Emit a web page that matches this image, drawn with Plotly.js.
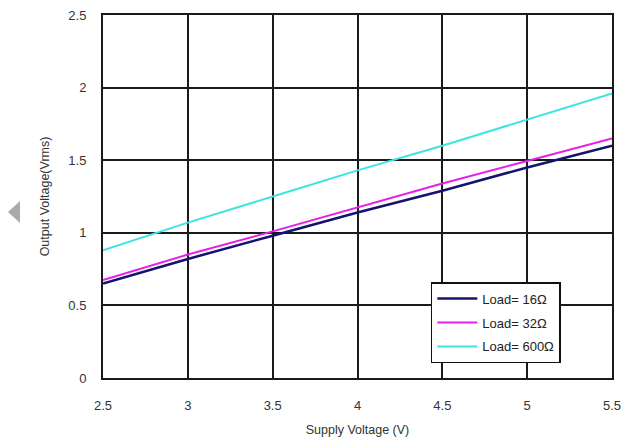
<!DOCTYPE html>
<html><head><meta charset="utf-8">
<script src="https://cdn.plot.ly/plotly-3.0.1.min.js"></script>
<style>html,body{margin:0;padding:0;background:#fff;}#chart{width:622px;height:445px;}</style>
</head><body><div id="chart"></div>
<script>
const supplyVoltage = [2.5, 3, 3.5, 4, 4.5, 5, 5.5];
const load16 = [0.65, 0.82, 0.98, 1.14, 1.29, 1.45, 1.60];
const load32 = [0.675, 0.85, 1.01, 1.175, 1.34, 1.495, 1.65];
const load600 = [0.88, 1.07, 1.25, 1.43, 1.60, 1.78, 1.96];
const seriesNames = ['Load= 16Ω', 'Load= 32Ω', 'Load= 600Ω'];
const xTicks = [2.5, 3, 3.5, 4, 4.5, 5, 5.5];
const yTicks = [0, 0.5, 1, 1.5, 2, 2.5];

const traces = [
  {x: supplyVoltage, y: load16, name: seriesNames[0], legendgroup: 'a', mode: 'lines', line: {color: '#14146e', width: 2.5}},
  {x: supplyVoltage, y: load32, name: seriesNames[1], legendgroup: 'b', mode: 'lines', line: {color: '#e81ee8', width: 2}},
  {x: supplyVoltage, y: load600, name: seriesNames[2], legendgroup: 'c', mode: 'lines', line: {color: '#3ee4e0', width: 2}}
];
const fam = 'Liberation Sans, Arial, sans-serif';
const layout = {
  width: 622, height: 445,
  margin: {l: 103, r: 10, t: 15, b: 67},
  paper_bgcolor: '#fff', plot_bgcolor: '#fff',
  font: {family: fam, size: 13, color: '#333'},
  showlegend: true,
  legend: {x: 0.644, y: 0.264, xanchor: 'left', yanchor: 'top', bgcolor: '#fff', bordercolor: '#111', borderwidth: 1.5,
           traceorder: 'grouped', tracegroupgap: 4, entrywidth: 112, itemwidth: 40,
           font: {family: fam, size: 13, color: '#222'}},
  xaxis: {range: [2.5, 5.5], tickvals: xTicks, ticktext: xTicks.map(String), showgrid: true, gridcolor: '#1a1a1a', gridwidth: 2,
          showline: true, linecolor: '#1a1a1a', linewidth: 2, mirror: true, zeroline: false, ticks: '', ticklen: 0,
          ticklabelstandoff: 14, tickfont: {family: fam, size: 13, color: '#333'},
          title: {text: 'Supply Voltage (V)', font: {family: fam, size: 12.5, color: '#333'}, standoff: 14}},
  yaxis: {range: [0, 2.5], tickvals: yTicks, ticktext: yTicks.map(String), showgrid: true, gridcolor: '#1a1a1a', gridwidth: 2,
          showline: true, linecolor: '#1a1a1a', linewidth: 2, mirror: true, zeroline: false, ticks: '', ticklen: 0,
          ticklabelstandoff: 12, tickfont: {family: fam, size: 13, color: '#333'},
          title: {text: 'Output Voltage(Vrms)', font: {family: fam, size: 12.5, color: '#333'}, standoff: 16}},
  shapes: [{type: 'path', xref: 'paper', yref: 'paper', path: '', fillcolor: '#aaa', line: {width: 0}}]
};
const pw = 622 - 103 - 10, ph = 445 - 15 - 67;
function px(x){return (x - 103) / pw;}
function py(y){return (445 - 67 - y) / ph;}
layout.shapes[0].path = 'M ' + px(20) + ' ' + py(201) + ' L ' + px(8) + ' ' + py(212) + ' L ' + px(20) + ' ' + py(223) + ' Z';
Plotly.newPlot('chart', traces, layout, {displayModeBar: false, staticPlot: true});
</script></body></html>
